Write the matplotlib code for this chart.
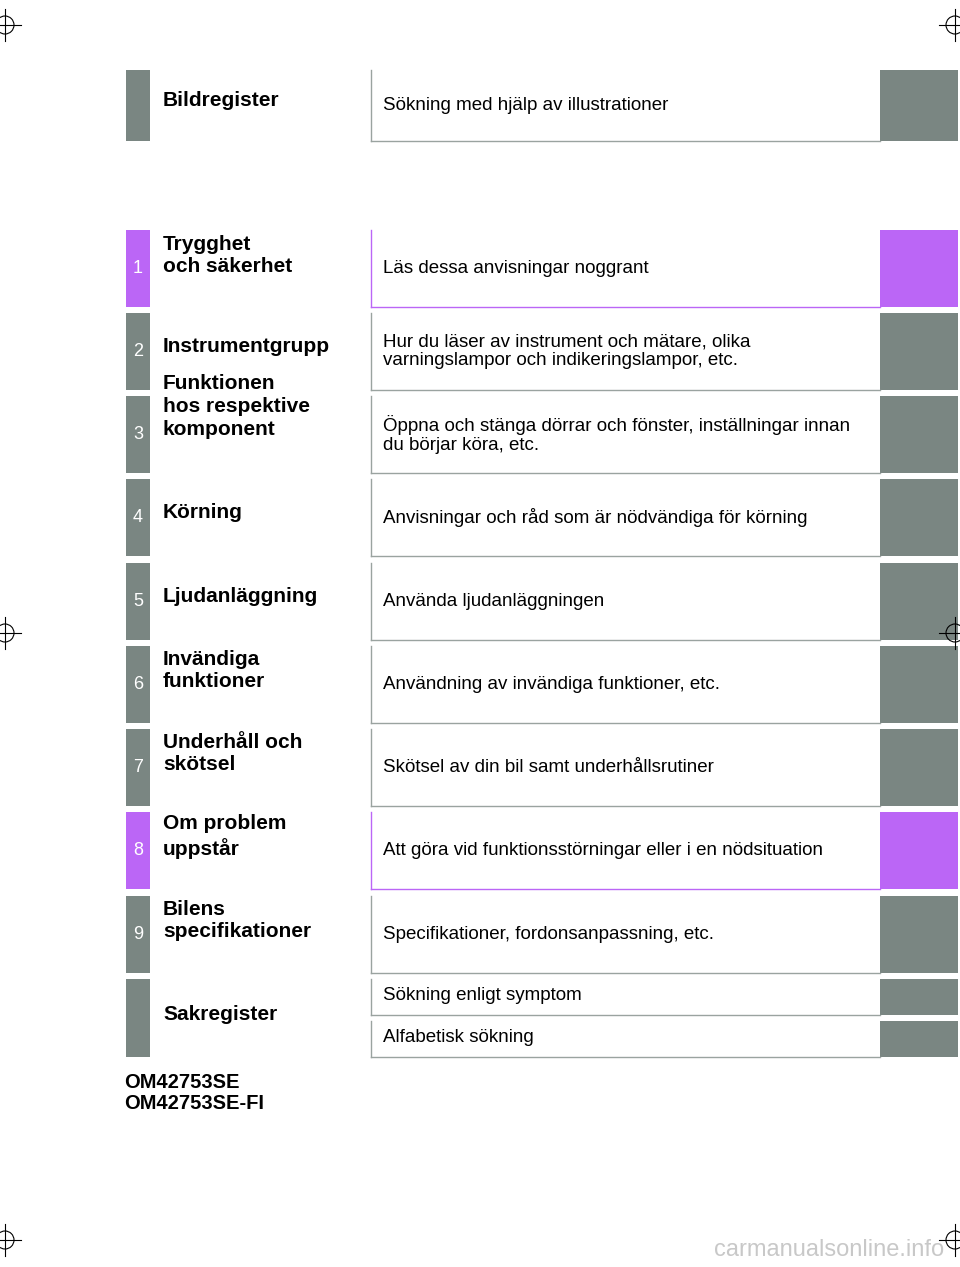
import matplotlib
matplotlib.use("Agg")
import matplotlib.pyplot as plt
from matplotlib.patches import Rectangle, Circle

numbers = ["", "1", "2", "3", "4", "5", "6", "7", "8", "9"]
titles = ["Bildregister", "Trygghet\noch säkerhet", "Instrumentgrupp",
          "Funktionen\nhos respektive\nkomponent", "Körning", "Ljudanläggning",
          "Invändiga\nfunktioner", "Underhåll och\nskötsel", "Om problem\nuppstår",
          "Bilens\nspecifikationer"]
descriptions = ["Sökning med hjälp av illustrationer", "Läs dessa anvisningar noggrant",
                "Hur du läser av instrument och mätare, olika\nvarningslampor och indikeringslampor, etc.",
                "Öppna och stänga dörrar och fönster, inställningar innan\ndu börjar köra, etc.",
                "Anvisningar och råd som är nödvändiga för körning",
                "Använda ljudanläggningen",
                "Användning av invändiga funktioner, etc.",
                "Skötsel av din bil samt underhållsrutiner",
                "Att göra vid funktionsstörningar eller i en nödsituation",
                "Specifikationer, fordonsanpassning, etc."]
highlighted = [False, True, False, False, False, False, False, False, True, False]
title_offsets = [0, -13, 0, -28, 0, 0, -14, -14, -14, -14]
row_tops = [70, 230, 313, 396, 479, 563, 646, 729, 812, 896]
row_heights = [71, 77, 77, 77, 77, 77, 77, 77, 77, 77]
index_title = "Sakregister"
index_items = ["Sökning enligt symptom", "Alfabetisk sökning"]
codes = "OM42753SE\nOM42753SE-FI"

GRAY = "#7a8682"
PURPLE = "#bb66f6"
LINE = "#9aa3a0"

fig = plt.figure(figsize=(9.6, 12.67), dpi=100)
ax = fig.add_axes([0, 0, 1, 1])
ax.set_xlim(0, 960); ax.set_ylim(1267, 0); ax.axis("off")

def row(top, h, num, title, desc, hl, toff):
    col = PURPLE if hl else GRAY
    ax.add_patch(Rectangle((126, top), 24, h, color=col, lw=0))
    ax.add_patch(Rectangle((880, top), 78, h, color=col, lw=0))
    ec = PURPLE if hl else LINE
    ax.plot([370.5, 370.5], [top, top + h], color=ec, lw=1)
    ax.plot([370.5, 880], [top + h, top + h], color=ec, lw=1)
    cy = top + h / 2
    if num:
        ax.text(138, cy, num, color="white", fontsize=13, ha="center", va="center", family="Liberation Sans")
    ax.text(163, cy + toff + (0 if title.count("\n") else -5), title, fontsize=15, fontweight="bold",
            ha="left", va="center", family="Liberation Sans", linespacing=1.25)
    ax.text(383, cy, desc, fontsize=13.5, ha="left", va="center", family="Liberation Sans", linespacing=1.1)

for i in range(len(titles)):
    row(row_tops[i], row_heights[i], numbers[i], titles[i], descriptions[i], highlighted[i], title_offsets[i])

# Sakregister
ax.add_patch(Rectangle((126, 979), 24, 78, color=GRAY, lw=0))
ax.text(163, 1015, index_title, fontsize=15, fontweight="bold", ha="left", va="center", family="Liberation Sans")
for j, (t0, item) in enumerate(zip([979, 1021], index_items)):
    ax.add_patch(Rectangle((880, t0), 78, 36, color=GRAY, lw=0))
    ax.plot([370.5, 370.5], [t0, t0 + 36], color=LINE, lw=1)
    ax.plot([370.5, 880], [t0 + 36, t0 + 36], color=LINE, lw=1)
    ax.text(383, t0 + 17, item, fontsize=13.5, ha="left", va="center", family="Liberation Sans")

ax.text(124, 1093, codes, fontsize=14.5, fontweight="bold", ha="left", va="center",
        family="Liberation Sans", linespacing=1.1)

for (x, y) in [(5, 25), (955, 25), (5, 633), (955, 633), (5, 1240), (955, 1240)]:
    ax.add_patch(Circle((x, y), 9, fill=False, lw=0.8, ec="black"))
    ax.plot([x - 16, x + 16], [y, y], color="black", lw=0.8)
    ax.plot([x, x], [y - 16, y + 16], color="black", lw=0.8)

ax.text(944, 1250, "carmanualsonline.info", fontsize=17, color="#c8c8c8", ha="right", va="center",
        family="Liberation Sans")

fig.savefig("out.png", dpi=100)
